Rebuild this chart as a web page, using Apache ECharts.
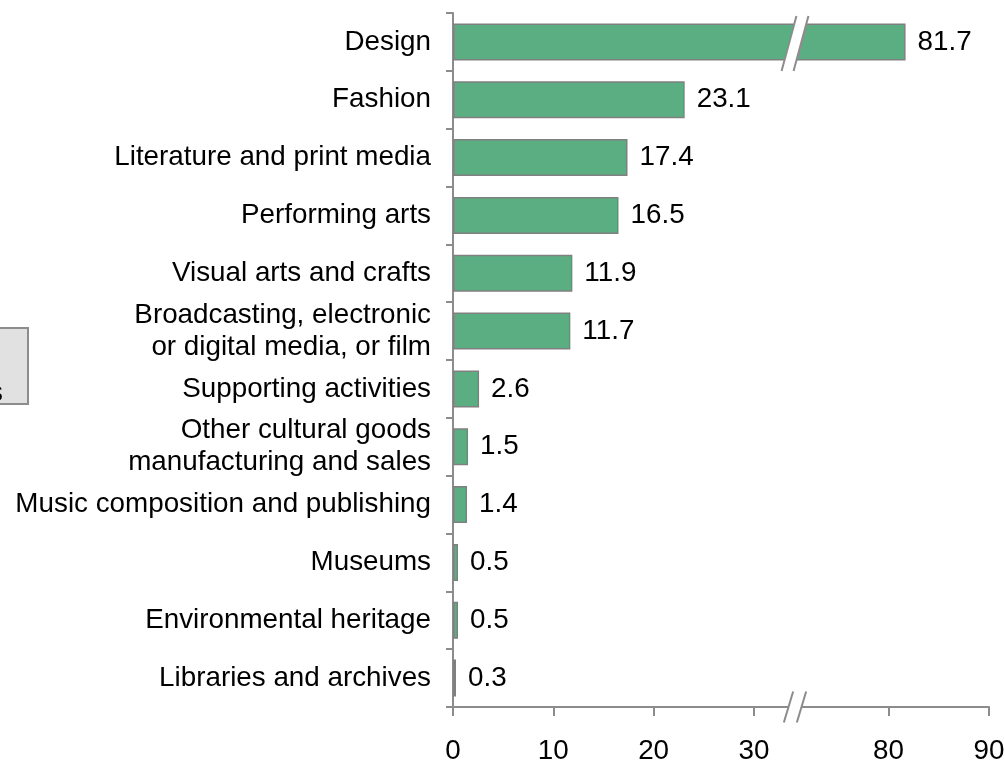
<!DOCTYPE html>
<html>
<head>
<meta charset="utf-8">
<title>Creative industries</title>
<script src="https://cdn.jsdelivr.net/npm/echarts@6/dist/echarts.min.js"></script>
<style>
  html, body { margin: 0; padding: 0; background: #ffffff; }
  #chart { width: 1005px; height: 761px; }
</style>
</head>
<body>
<div id="chart"></div>
<script>
// Categories, top to bottom
const categories = [
  'Design',
  'Fashion',
  'Literature and print media',
  'Performing arts',
  'Visual arts and crafts',
  'Broadcasting, electronic\nor digital media, or film',
  'Supporting activities',
  'Other cultural goods\nmanufacturing and sales',
  'Music composition and publishing',
  'Museums',
  'Environmental heritage',
  'Libraries and archives'
];

// Bar values
const values = [81.7, 23.1, 17.4, 16.5, 11.9, 11.7, 2.6, 1.5, 1.4, 0.5, 0.5, 0.3];

// Broken value axis: a low segment and a high segment
const lowRange = [0, 34.1];
const highRange = [70.7, 90];
const lowTicks = [0, 10, 20, 30];
const highTicks = [80, 90];

const FONT = '"Liberation Sans", Arial, sans-serif';
const TEXT_SIZE = 27.8;
const AXIS_GRAY = '#8C8C8C';
const BAR_FILL = '#5BAE82';
const BAR_EDGE = '#808080';

const chart = echarts.init(document.getElementById('chart'), null, { renderer: 'canvas' });

function valueAxis(gridIndex, range, ticks) {
  return {
    type: 'value',
    gridIndex: gridIndex,
    min: range[0],
    max: range[1],
    splitLine: { show: false },
    axisLine: { show: true, lineStyle: { color: AXIS_GRAY, width: 2 } },
    axisTick: { show: true, length: 9, inside: false, customValues: ticks,
      lineStyle: { color: AXIS_GRAY, width: 2 } },
    axisLabel: { show: true, customValues: ticks, margin: 30, color: '#000',
      fontSize: TEXT_SIZE, fontFamily: FONT, showMinLabel: true, showMaxLabel: true }
  };
}

const barStyle = { color: BAR_FILL, borderColor: BAR_EDGE, borderWidth: 1.5 };
const labelStyle = { show: true, position: 'right', distance: 12, color: '#000',
  fontSize: TEXT_SIZE, fontFamily: FONT, formatter: p => Number(p.value).toFixed(1) };

chart.setOption({
  animation: false,
  backgroundColor: '#ffffff',
  textStyle: { fontFamily: FONT },
  grid: [
    { left: 453, top: 13, width: 342, height: 694, containLabel: false, outerBoundsMode: 'none' },
    { left: 795, top: 13, width: 194, height: 694, containLabel: false, outerBoundsMode: 'none' }
  ],
  xAxis: [
    valueAxis(0, lowRange, lowTicks),
    valueAxis(1, highRange, highTicks)
  ],
  yAxis: [
    {
      type: 'category',
      gridIndex: 0,
      inverse: true,
      data: categories,
      axisLine: { show: true, lineStyle: { color: AXIS_GRAY, width: 2 } },
      axisTick: { show: true, length: 7, inside: false, lineStyle: { color: AXIS_GRAY, width: 2 } },
      axisLabel: { show: true, margin: 22, color: '#000', fontSize: TEXT_SIZE,
        fontFamily: FONT, lineHeight: 32, align: 'right', interval: 0 },
      splitLine: { show: false }
    },
    {
      type: 'category',
      gridIndex: 1,
      inverse: true,
      data: categories,
      show: false
    }
  ],
  series: [
    {
      type: 'bar',
      xAxisIndex: 0,
      yAxisIndex: 0,
      barWidth: 37,
      clip: true,
      itemStyle: barStyle,
      label: labelStyle,
      data: values.map(v => v <= lowRange[1] ? v : { value: v, label: { show: false } })
    },
    {
      type: 'bar',
      xAxisIndex: 1,
      yAxisIndex: 1,
      barWidth: 37,
      clip: true,
      itemStyle: barStyle,
      label: labelStyle,
      data: values.map(v => v >= highRange[0] ? v : '-')
    }
  ]
});

// Break marks: a white gap between two slanted strokes
function breakMark(cx, cy, half, gap, slope) {
  const dx = half * slope;
  const x1t = cx - gap / 2 + dx, x1b = cx - gap / 2 - dx;
  const x2t = cx + gap / 2 + dx, x2b = cx + gap / 2 - dx;
  const yt = cy - half, yb = cy + half;
  return [
    { type: 'polygon', z: 100, silent: true,
      shape: { points: [[x1t, yt], [x2t, yt], [x2b, yb], [x1b, yb]] },
      style: { fill: '#ffffff', stroke: null } },
    { type: 'line', z: 101, silent: true,
      shape: { x1: x1t, y1: yt, x2: x1b, y2: yb },
      style: { stroke: AXIS_GRAY, lineWidth: 2 } },
    { type: 'line', z: 101, silent: true,
      shape: { x1: x2t, y1: yt, x2: x2b, y2: yb },
      style: { stroke: AXIS_GRAY, lineWidth: 2 } }
  ];
}

const breakX = chart.convertToPixel({ xAxisIndex: 0 }, lowRange[1]);
const axisY = chart.convertToPixel({ yAxisIndex: 0 }, categories[categories.length - 1])
  + (chart.convertToPixel({ yAxisIndex: 0 }, categories[1]) - chart.convertToPixel({ yAxisIndex: 0 }, categories[0])) / 2;
const brokenRows = [];
values.forEach((v, i) => { if (v > lowRange[1]) brokenRows.push(i); });

const marks = [];
brokenRows.forEach(i => {
  const cy = chart.convertToPixel({ yAxisIndex: 0 }, categories[i]);
  marks.push(...breakMark(breakX, cy + 1.5, 27.5, 12, 0.27));
});
marks.push(...breakMark(breakX, axisY, 15.5, 13, 0.3));

// Partly visible side panel at the left edge
marks.push(
  { type: 'rect', z: 90, silent: true,
    shape: { x: -20, y: 328, width: 48, height: 76 },
    style: { fill: '#E1E1E1', stroke: AXIS_GRAY, lineWidth: 2 } },
  { type: 'text', z: 91, silent: true,
    style: { x: 3, y: 393, text: 's', align: 'right', verticalAlign: 'middle',
      font: TEXT_SIZE + 'px ' + FONT, fill: '#000' } }
);

chart.setOption({ graphic: { elements: marks } });
</script>
</body>
</html>
